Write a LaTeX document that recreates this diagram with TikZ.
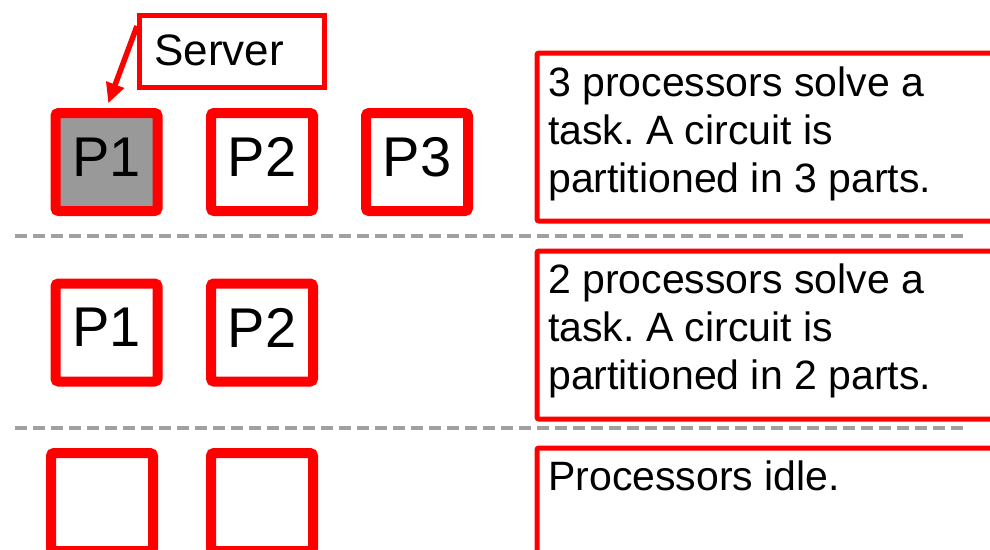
\documentclass[tikz,border=0pt]{standalone}
\usepackage{fontspec}
\setmainfont{Liberation Sans}
\usetikzlibrary{arrows.meta}
\definecolor{pred}{RGB}{255,0,0}
\definecolor{pgray}{RGB}{153,153,153}
\definecolor{dgray}{RGB}{160,160,160}
\frenchspacing
\begin{document}
\begin{tikzpicture}[x=1pt,y=-1pt,
  proc/.style={draw=pred, line width=10pt, rounded corners=3pt, minimum width=102pt, minimum height=98pt, inner sep=0pt, text depth=10pt, font=\fontsize{56}{60}\selectfont},
  descbox/.style={draw=pred, line width=5pt, rounded corners=2pt, minimum width=500pt, minimum height=168pt, anchor=north west, inner sep=0pt},
  dtext/.style={anchor=base west, align=left, inner sep=0pt, font=\fontsize{41}{48}\selectfont},
  sepline/.style={draw=dgray, line width=3.5pt, dash pattern=on 12pt off 6pt},
  serverbox/.style={draw=pred, line width=5pt, minimum width=185pt, minimum height=72pt, inner sep=0pt},
  servertext/.style={anchor=base west, inner sep=0pt, font=\fontsize{44}{48}\selectfont},
  pointer/.style={draw=pred, line width=5.5pt, -{Triangle[length=20pt,width=18pt]}, shorten >=5pt}
]
\useasboundingbox (0,0) rectangle (990,549);
\clip (0,0) rectangle (990,549);
\fill[white] (0,0) rectangle (990,549);

% separators
\coordinate (s1a) at (15,236); \coordinate (s1b) at (967,236);
\coordinate (s2a) at (15,428); \coordinate (s2b) at (967,428);
\draw[sepline] (s1a) -- (s1b);
\draw[sepline] (s2a) -- (s2b);

% row 1
\node[proc, fill=pgray] (p11) at (106.5,162) {P1};
\node[proc] (p12) at (262,162) {P2};
\node[proc] (p13) at (417,162) {P3};
% row 2
\node[proc] (p21) at (106.5,332.5) {P1};
\node[proc] (p22) at (262,332.5) {P2};
% row 3
\node[proc] (p31) at (102,502) {};
\node[proc] (p32) at (262,502) {};

% server
\node[serverbox] (server) at (232,51.5) {};
\node[servertext] (servertext) at (154,65) {Server};
\draw[pointer] (server.165) -- (p11.north);

% description boxes
\node[descbox] (d1) at (534.5,50.5) {};
\node[descbox] (d2) at (534.5,248.5) {};
\node[descbox] (d3) at (534.5,445.5) {};
\node[dtext] (t1) at (548,192) {3 processors solve a\\task. A circuit is\\partitioned in 3 parts.};
\node[dtext] (t2) at (548,389) {2 processors solve a\\task. A circuit is\\partitioned in 2 parts.};
\node[dtext] (t3) at (548,490) {Processors idle.};
\end{tikzpicture}
\end{document}
